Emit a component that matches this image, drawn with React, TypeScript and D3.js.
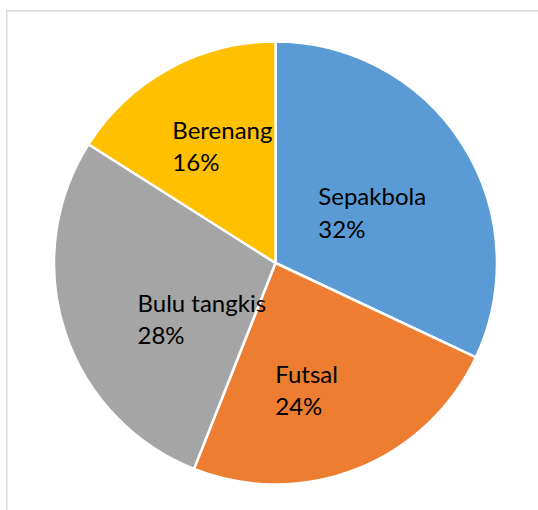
import React from "react";
import * as d3 from "d3";

const categories = ["Sepakbola", "Futsal", "Bulu tangkis", "Berenang"];
const values = [32, 24, 28, 16];
const colors = ["#5B9BD5", "#ED7D31", "#A5A5A5", "#FFC000"];
// label nudges relative to the slice centroid at half radius (px)
const labelNudge: [number, number][] = [
  [-50.7, 1.5],
  [-41, 17],
  [-32.7, 14.7],
  [-49.8, -27.4],
];

const W = 538;
const H = 510;
const cx = 275.5;
const cy = 263;
const R = 221.5;

export default function App() {
  const total = d3.sum(values);
  const pie = d3
    .pie<number>()
    .sort(null)
    .value((d) => d)
    .startAngle(0)
    .endAngle(2 * Math.PI);
  const arcs = pie(values);
  const arc = d3.arc<d3.PieArcDatum<number>>().innerRadius(0).outerRadius(R);
  const labelArc = d3
    .arc<d3.PieArcDatum<number>>()
    .innerRadius(R * 0.5)
    .outerRadius(R * 0.5);
  const fmt = d3.format(".0%");
  const lineH = 32.5;

  return (
    <div style={{ position: "absolute", left: 0, top: 0 }}>
      <svg width={W} height={H} style={{ display: "block" }}>
        <rect x={0} y={0} width={W} height={H} fill="#ffffff" />
        <rect
          x={6.75}
          y={10.75}
          width={W + 20}
          height={H + 20}
          fill="none"
          stroke="#d9d9d9"
          strokeWidth={1.5}
        />
        <g transform={`translate(${cx},${cy})`}>
          {arcs.map((a, i) => (
            <path
              key={i}
              d={arc(a) || ""}
              fill={colors[i]}
              stroke="#ffffff"
              strokeWidth={2.5}
              strokeLinejoin="round"
            />
          ))}
          {arcs.map((a, i) => {
            const [x, y] = labelArc.centroid(a);
            const lx = x + labelNudge[i][0];
            const ly = y + labelNudge[i][1];
            return (
              <text
                key={"t" + i}
                x={lx}
                y={ly}
                fontFamily="Lato, 'Open Sans', sans-serif"
                fontSize={24}
                fill="#000000"
              >
                <tspan x={lx} y={ly}>
                  {categories[i]}
                </tspan>
                <tspan x={lx} y={ly + lineH}>
                  {fmt(values[i] / total)}
                </tspan>
              </text>
            );
          })}
        </g>
      </svg>
    </div>
  );
}
